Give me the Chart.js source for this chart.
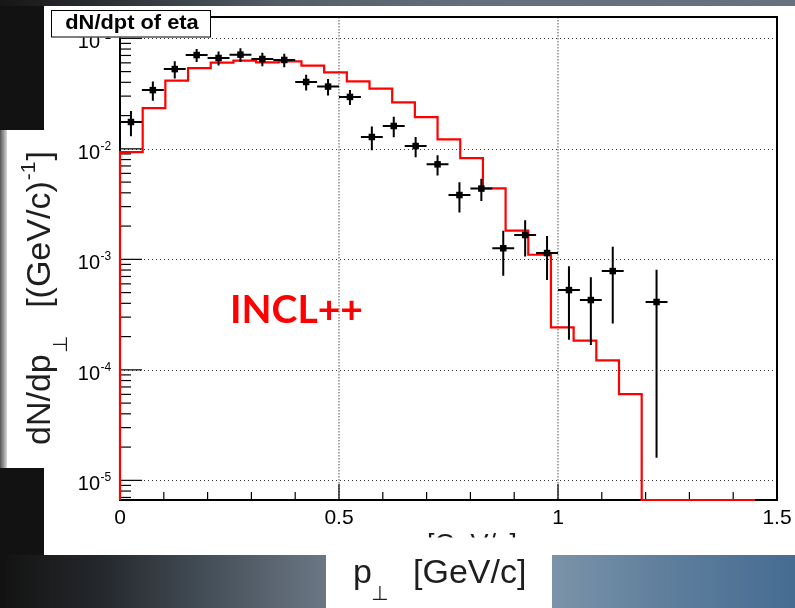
<!DOCTYPE html>
<html>
<head>
<meta charset="utf-8">
<script src="https://cdn.jsdelivr.net/npm/chart.js@4.4.1/dist/chart.umd.min.js"></script>
<style>
html,body{margin:0;padding:0;width:795px;height:608px;overflow:hidden;background:#121212;}
canvas{display:block;}
</style>
</head>
<body>
<canvas id="c" width="795" height="608"></canvas>
<script>
// ---------------- data ----------------
const histBinEdges = [0, 0.05179, 0.10357, 0.15536, 0.20714, 0.25893, 0.31071, 0.3625, 0.41429, 0.46607,
  0.51786, 0.56964, 0.62143, 0.67321, 0.725, 0.77679, 0.82857, 0.88036, 0.93214, 0.98393,
  1.03571, 1.0875, 1.13929, 1.19107, 1.24286, 1.29464, 1.34643, 1.39821, 1.45];
const histValues = [0.00935, 0.0234, 0.0414, 0.0538, 0.0603, 0.0628, 0.0607, 0.0619, 0.0566, 0.0492,
  0.0408, 0.0351, 0.0263, 0.0194, 0.0122, 0.00824, 0.00439, 0.00182, 0.00110, 0.000242,
  0.000184, 0.000122, 0.0000604, 0, 0, 0, 0, 0];

const dataX = [0.025, 0.075, 0.125, 0.175, 0.225, 0.275, 0.325, 0.375, 0.425, 0.475, 0.525, 0.575,
  0.625, 0.675, 0.725, 0.775, 0.825, 0.875, 0.925, 0.975, 1.025, 1.075, 1.125, 1.225];
const dataXErr = [0.025, 0.025, 0.025, 0.025, 0.025, 0.025, 0.025, 0.025, 0.025, 0.025, 0.025, 0.025,
  0.025, 0.025, 0.025, 0.025, 0.025, 0.025, 0.025, 0.025, 0.025, 0.025, 0.025, 0.025];
const dataY = [0.0175, 0.034, 0.0527, 0.0706, 0.0664, 0.0712, 0.065, 0.0637, 0.0403, 0.0366, 0.0295, 0.0128,
  0.0161, 0.0106, 0.00724, 0.00382, 0.00437, 0.00126, 0.00166, 0.00114, 0.000527, 0.000428, 0.000783, 0.000411];
const dataYErr = [0.0045, 0.0067, 0.0095, 0.0095, 0.0095, 0.01, 0.009, 0.009, 0.0066, 0.0062, 0.0046, 0.0031,
  0.0034, 0.0022, 0.0015, 0.00116, 0.001, 0.00055, 0.0006, 0.00049, 0.00034, 0.00026, 0.00052, 0.000395];

const xTickValues = [0, 0.5, 1, 1.5];
const xTickLabels = ['0', '0.5', '1', '1.5'];
const xMinorTicks = [0.1, 0.2, 0.3, 0.4, 0.6, 0.7, 0.8, 0.9, 1.1, 1.2, 1.3, 1.4];
const yTickExponents = [-1, -2, -3, -4, -5];
const yMinorMantissas = [2, 3, 4, 5, 6, 7, 8, 9];

const X_MIN = 0, X_MAX = 1.5;
const Y_MIN = 6.64e-6, Y_MAX = 0.156;

const plotTitle = 'dN/dpt of eta';
const modelLabel = 'INCL++';
const yTitleMain = 'dN/dp', yTitleSub = '\u22A5', yTitleUnit = '[(GeV/c)', yTitleSup = '-1', yTitleEnd = ']';
const xTitleMain = 'p', xTitleSub = '\u22A5', xTitleUnit = '[GeV/c]';
const hiddenAxisTitle = '[GeV/c]';

// ---------------- helpers ----------------
const SANS = '"Liberation Sans", Arial, Helvetica, sans-serif';

function drawBackground(ctx) {
  ctx.fillStyle = '#121212';
  ctx.fillRect(0, 0, 795, 608);
  let g = ctx.createLinearGradient(0, 0, 795, 0);
  g.addColorStop(0, '#161616');
  g.addColorStop(0.12, '#2a2d31');
  g.addColorStop(0.35, '#525c66');
  g.addColorStop(0.6, '#64707c');
  g.addColorStop(1, '#66737f');
  ctx.fillStyle = g;
  ctx.fillRect(0, 0, 795, 6);
  g = ctx.createLinearGradient(7, 0, 326, 0);
  g.addColorStop(0, '#141414');
  g.addColorStop(0.3, '#25282c');
  g.addColorStop(0.65, '#46515b');
  g.addColorStop(1, '#6b7784');
  ctx.fillStyle = g;
  ctx.fillRect(7, 555, 319, 53);
  g = ctx.createLinearGradient(552, 0, 795, 0);
  g.addColorStop(0, '#7b93a8');
  g.addColorStop(0.5, '#5d7d9c');
  g.addColorStop(1, '#466c92');
  ctx.fillStyle = g;
  ctx.fillRect(552, 555, 243, 53);
  g = ctx.createLinearGradient(0, 0, 7, 0);
  g.addColorStop(0, '#555');
  g.addColorStop(1, '#d8d8d8');
  ctx.fillStyle = g;
  ctx.fillRect(0, 130, 7, 338);
  ctx.fillStyle = '#ffffff';
  ctx.fillRect(44, 6, 751, 549);
  ctx.fillRect(7, 130, 40, 338);
  ctx.fillRect(326, 555, 226, 53);
}

const rootPlugin = {
  id: 'rootStyle',
  beforeDraw(chart) {
    drawBackground(chart.ctx);
  },
  beforeDatasetsDraw(chart) {
    const ctx = chart.ctx, xs = chart.scales.x, ys = chart.scales.y, a = chart.chartArea;
    ctx.save();
    ctx.strokeStyle = '#333';
    ctx.lineWidth = 1;
    ctx.setLineDash([1, 3]);
    yTickExponents.forEach(e => {
      const py = Math.round(ys.getPixelForValue(Math.pow(10, e))) + 0.5;
      ctx.beginPath(); ctx.moveTo(a.left, py); ctx.lineTo(a.right, py); ctx.stroke();
    });
    ctx.strokeStyle = '#8a8a8a';
    ctx.lineWidth = 1.5;
    ctx.setLineDash([1.5, 1.5]);
    xTickValues.forEach(v => {
      const px = xs.getPixelForValue(v);
      if (px <= a.left + 1 || px >= a.right - 1) return;
      ctx.beginPath(); ctx.moveTo(px, a.top); ctx.lineTo(px, a.bottom); ctx.stroke();
    });
    ctx.setLineDash([]);
    ctx.strokeStyle = '#000';
    ctx.lineWidth = 1.2;
    yTickExponents.forEach(e => {
      const py = ys.getPixelForValue(Math.pow(10, e));
      ctx.beginPath(); ctx.moveTo(a.left, py); ctx.lineTo(a.left + 22, py); ctx.stroke();
    });
    for (let e = -6; e <= 0; e++) {
      yMinorMantissas.forEach(m => {
        const v = m * Math.pow(10, e);
        if (v <= Y_MIN || v >= Y_MAX) return;
        const py = ys.getPixelForValue(v);
        ctx.beginPath(); ctx.moveTo(a.left, py); ctx.lineTo(a.left + 11, py); ctx.stroke();
      });
    }
    xTickValues.forEach(v => {
      const px = xs.getPixelForValue(v);
      ctx.beginPath(); ctx.moveTo(px, a.bottom); ctx.lineTo(px, a.bottom - 16); ctx.stroke();
    });
    xMinorTicks.forEach(v => {
      const px = xs.getPixelForValue(v);
      ctx.beginPath(); ctx.moveTo(px, a.bottom); ctx.lineTo(px, a.bottom - 8); ctx.stroke();
    });
    ctx.lineWidth = 2;
    ctx.strokeRect(a.left, a.top, a.right - a.left, a.bottom - a.top);
    ctx.restore();
  },
  afterDatasetsDraw(chart) {
    const ctx = chart.ctx, xs = chart.scales.x, ys = chart.scales.y;
    ctx.save();
    ctx.strokeStyle = '#000';
    ctx.lineWidth = 2;
    dataX.forEach((x, i) => {
      const px = xs.getPixelForValue(x), py = ys.getPixelForValue(dataY[i]);
      const xl = xs.getPixelForValue(x - dataXErr[i]), xr = xs.getPixelForValue(x + dataXErr[i]);
      const yt = ys.getPixelForValue(dataY[i] + dataYErr[i]);
      const yb = ys.getPixelForValue(Math.max(dataY[i] - dataYErr[i], Y_MIN));
      ctx.beginPath();
      ctx.moveTo(xl, py); ctx.lineTo(xr, py);
      ctx.moveTo(px, yt); ctx.lineTo(px, yb);
      ctx.stroke();
    });
    ctx.restore();
  },
  afterDraw(chart) {
    const ctx = chart.ctx, xs = chart.scales.x, ys = chart.scales.y;
    ctx.save();
    ctx.fillStyle = '#000';
    ctx.textBaseline = 'alphabetic';
    ctx.font = '21px ' + SANS;
    ctx.textAlign = 'center';
    xTickValues.forEach((v, i) => {
      ctx.fillText(xTickLabels[i], xs.getPixelForValue(v), 523.5);
    });
    yTickExponents.forEach(e => {
      const py = ys.getPixelForValue(Math.pow(10, e));
      ctx.font = '20px ' + SANS;
      ctx.textAlign = 'right';
      ctx.fillText('10', 100, py + 9.7);
      ctx.font = '12px ' + SANS;
      ctx.textAlign = 'left';
      ctx.fillText(String(e), 100.5, py + 0.8);
    });
    ctx.save();
    ctx.beginPath(); ctx.rect(380, 520, 200, 17.5); ctx.clip();
    ctx.font = '27px ' + SANS;
    ctx.textAlign = 'left';
    ctx.fillStyle = '#1a1a1a';
    ctx.fillText(hiddenAxisTitle, 427, 553);
    ctx.restore();
    // title box
    ctx.fillStyle = '#fff';
    ctx.fillRect(51, 10, 160, 27.5);
    ctx.strokeStyle = '#000';
    ctx.lineWidth = 1;
    ctx.strokeRect(51.5, 10.5, 159, 26.5);
    ctx.fillStyle = '#000';
    ctx.font = 'bold 21px ' + SANS;
    ctx.textAlign = 'center';
    ctx.save();
    ctx.translate(132, 29);
    ctx.scale(1.04, 1);
    ctx.fillText(plotTitle, 0, 0);
    ctx.restore();
    // model label
    ctx.fillStyle = '#ff0000';
    ctx.font = 'bold 39px Lato, "Open Sans", sans-serif';
    ctx.textAlign = 'left';
    ctx.fillText(modelLabel, 230, 322.5);
    // y title
    ctx.save();
    ctx.fillStyle = '#1e1e1e';
    ctx.translate(50, 445);
    ctx.rotate(-Math.PI / 2);
    let x = 0;
    ctx.font = '34px ' + SANS;
    ctx.fillText(yTitleMain, x, 0); x += ctx.measureText(yTitleMain).width + 1;
    ctx.font = '20px "DejaVu Sans", sans-serif';
    ctx.fillText(yTitleSub, x, 17); x += ctx.measureText(yTitleSub).width;
    x += 28;
    ctx.font = '34px ' + SANS;
    ctx.fillText(yTitleUnit, x, 0); x += ctx.measureText(yTitleUnit).width + 1;
    ctx.font = '21px ' + SANS;
    ctx.fillText(yTitleSup, x, -15); x += ctx.measureText(yTitleSup).width + 1;
    ctx.font = '34px ' + SANS;
    ctx.fillText(yTitleEnd, x, 0);
    ctx.restore();
    // x title
    ctx.fillStyle = '#1e1e1e';
    ctx.font = '34px ' + SANS;
    ctx.fillText(xTitleMain, 353, 583);
    ctx.font = '20px "DejaVu Sans", sans-serif';
    ctx.fillText(xTitleSub, 371, 600);
    ctx.font = '34px ' + SANS;
    ctx.fillText(xTitleUnit, 413, 583);
    ctx.restore();
  }
};

// ---------------- chart ----------------
const histPoints = [{x: histBinEdges[0], y: Y_MIN}];
histValues.forEach((v, i) => histPoints.push({x: histBinEdges[i], y: v > 0 ? v : Y_MIN}));
const lastV = histValues[histValues.length - 1];
histPoints.push({x: histBinEdges[histBinEdges.length - 1], y: lastV > 0 ? lastV : Y_MIN});

new Chart(document.getElementById('c').getContext('2d'), {
  type: 'scatter',
  data: {
    datasets: [
      {
        label: 'data',
        data: dataX.map((x, i) => ({x: x, y: dataY[i]})),
        showLine: false,
        pointStyle: 'rect',
        pointRadius: 4.6,
        pointBackgroundColor: '#000',
        pointBorderColor: '#000',
        pointBorderWidth: 0,
        order: 0
      },
      {
        label: modelLabel,
        data: histPoints,
        showLine: true,
        stepped: 'before',
        borderColor: '#ff0000',
        borderWidth: 2.2,
        pointRadius: 0,
        fill: false,
        clip: 3,
        order: 1
      }
    ]
  },
  options: {
    responsive: false,
    animation: false,
    events: [],
    layout: {padding: {left: 120, top: 17, right: 18, bottom: 108}},
    plugins: {legend: {display: false}, tooltip: {enabled: false}, title: {display: false}},
    scales: {
      x: {type: 'linear', min: X_MIN, max: X_MAX, display: false},
      y: {type: 'logarithmic', min: Y_MIN, max: Y_MAX, display: false}
    }
  },
  plugins: [rootPlugin]
});
</script>
</body>
</html>
